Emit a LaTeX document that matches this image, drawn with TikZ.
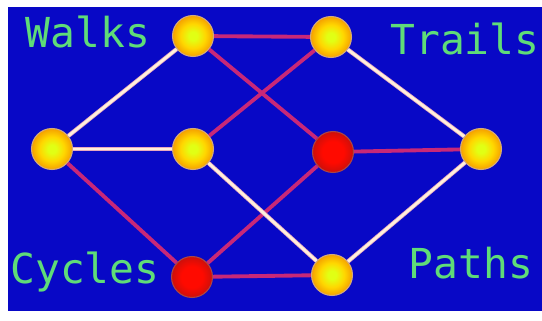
\documentclass[tikz,border=0pt]{standalone}
\usepackage{fontspec}
\setmonofont{DejaVu Sans Mono}
\definecolor{bgblue}{RGB}{8,8,198}
\definecolor{yellowin}{RGB}{225,255,20}
\definecolor{yellowmid}{RGB}{255,215,0}
\definecolor{yellowout}{RGB}{245,160,0}
\definecolor{ringtan}{RGB}{210,170,125}
\definecolor{redin}{RGB}{255,10,0}
\definecolor{redout}{RGB}{205,15,10}
\definecolor{ringred}{RGB}{170,70,70}
\definecolor{edgered}{RGB}{200,40,120}
\definecolor{edgepink}{RGB}{230,170,190}
\definecolor{edgecream}{RGB}{255,240,220}
\definecolor{labelgreen}{RGB}{95,220,120}
\pgfdeclareradialshading{yellowball}{\pgfpoint{0bp}{0bp}}{color(0bp)=(yellowin); color(5bp)=(yellowin); color(15bp)=(yellowmid); color(25bp)=(yellowout); color(50bp)=(yellowout)}
\pgfdeclareradialshading{redball}{\pgfpoint{0bp}{0bp}}{color(0bp)=(redin); color(13bp)=(redin); color(25bp)=(redout); color(50bp)=(redout)}
\begin{document}
\begin{tikzpicture}[x=0.02cm, y=-0.02cm,
    vtx/.style={circle, minimum size=0.82cm, inner sep=0pt, shading=yellowball, draw=ringtan, line width=0.6pt},
    redvtx/.style={vtx, shading=redball, draw=ringred},
    redge/.style={draw=edgered, line width=2.2pt},
    wedge/.style={draw=edgepink, double=edgecream, double distance=1.5pt, line width=0.45pt},
    lbl/.style={text=labelgreen, anchor=base, font=\ttfamily\fontsize{23.5}{23.5}\selectfont}]
    \useasboundingbox (0,0) rectangle (542,321);
    \fill[bgblue] (8,7) rectangle (542,311);

    \node (v_a) [vtx] at (193, 36) {};
    \node (v_b) [vtx] at (331, 37) {};
    \node (v_c) [vtx] at (52, 149) {};
    \node (v_d) [vtx] at (193, 149) {};
    \node (v_e) [redvtx] at (333, 152) {};
    \node (v_f) [vtx] at (481, 149) {};
    \node (v_g) [redvtx] at (192, 277) {};
    \node (v_h) [vtx] at (332, 275) {};

    \draw[redge] (v_a) -- (v_b);
    \draw[redge] (v_a) -- (v_e);
    \draw[redge] (v_b) -- (v_d);
    \draw[redge] (v_c) -- (v_g);
    \draw[redge] (v_e) -- (v_f);
    \draw[redge] (v_e) -- (v_g);
    \draw[redge] (v_g) -- (v_h);

    \draw[wedge] (v_a) -- (v_c);
    \draw[wedge] (v_b) -- (v_f);
    \draw[wedge] (v_c) -- (v_d);
    \draw[wedge] (v_d) -- (v_h);
    \draw[wedge] (v_h) -- (v_f);

    \node (l_walks) [lbl] at (88, 48) {Walks};
    \node (l_trails) [lbl] at (465, 54) {Trails};
    \node (l_cycles) [lbl] at (85, 283) {Cycles};
    \node (l_paths) [lbl] at (471, 278) {Paths};
\end{tikzpicture}
\end{document}
